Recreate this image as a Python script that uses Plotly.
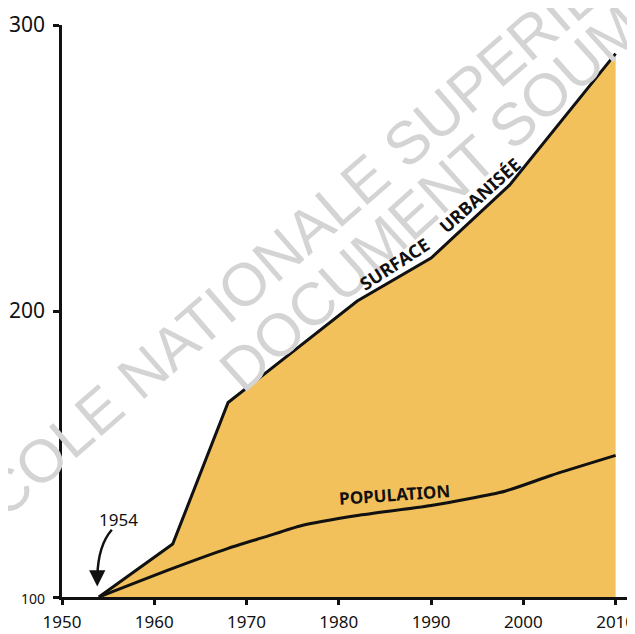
import plotly.graph_objects as go

# ---- data ----
surface_years = [1954, 1962, 1968, 1982, 1990, 1998.5, 2010]
surface_values = [100, 118.5, 168, 203.5, 218.5, 244, 290]

population_years = [1954, 1962, 1968, 1972, 1976, 1982, 1990, 1998, 2003, 2010]
population_values = [100, 110, 117, 121, 125, 128.5, 132, 137, 142.5, 149.5]

x_ticks = [1950, 1960, 1970, 1980, 1990, 2000, 2010]
x_tick_labels = ["1950", "1960", "1970", "1980", "1990", "2000", "2010"]
y_ticks = [100, 200, 300]
y_tick_labels = ["<span style='font-size:14px'>100</span>", "200", "300"]

FILL = "#F2C15B"
INK = "#111111"
FONT = "Noto Sans"

fig = go.Figure()

fig.add_trace(go.Scatter(
    x=surface_years, y=surface_values, mode="lines",
    line=dict(color=INK, width=3), fill="tozeroy", fillcolor=FILL,
    hoverinfo="skip", showlegend=False,
))
fig.add_trace(go.Scatter(
    x=population_years, y=population_values, mode="lines",
    line=dict(color=INK, width=3, shape="spline", smoothing=0.6),
    hoverinfo="skip", showlegend=False,
))

# watermark (two diagonal lines, partly outside the page)
wm_font = dict(family="Liberation Sans, Arial", size=60, color="#d4d4d4")
fig.add_annotation(text="ECOLE NATIONALE SUPERIEURE D'ARCHITECTURE",
                   x=0.814, y=0.979, xref="paper", yref="paper", showarrow=False,
                   xanchor="center", yanchor="middle",
                   textangle=-41, font=wm_font)
fig.add_annotation(text="DOCUMENT SOUMIS AU DROIT D'AUTEUR",
                   x=1.081, y=1.092, xref="paper", yref="paper", showarrow=False,
                   xanchor="center", yanchor="middle",
                   textangle=-42, font=wm_font)

lab_font = dict(family=FONT, size=18, color=INK, weight="bold")
fig.add_annotation(text="SURFACE", x=1986.0, y=216.5, showarrow=False,
                   textangle=-33, font=lab_font)
fig.add_annotation(text="URBANISÉE", x=1995.3, y=240.5, showarrow=False,
                   textangle=-42, font=lab_font)
fig.add_annotation(text="POPULATION", x=1986.0, y=136.0, showarrow=False,
                   textangle=-4, font=dict(family=FONT, size=17, color=INK, weight="bold"))
fig.add_annotation(text="1954", x=1956.1, y=127.0, showarrow=False,
                   font=dict(family=FONT, size=17, color=INK))

# curved arrow to 1954
fig.add_shape(type="path", xref="x", yref="y",
              path="M 1955.4,123.5 Q 1953.9,118 1953.83,107",
              line=dict(color=INK, width=2.5))
fig.add_annotation(x=1953.82, y=103.7, ax=0, ay=-14, text="", showarrow=True,
                   arrowhead=2, arrowsize=1.3, arrowwidth=2.5, arrowcolor=INK)

fig.update_xaxes(
    range=[1950, 2012.1], tickvals=x_ticks, ticktext=x_tick_labels,
    showgrid=False, zeroline=False, showline=True, linecolor=INK, linewidth=2.5,
    ticks="outside", ticklen=5, tickwidth=2.5, tickcolor=INK,
    tickfont=dict(family=FONT, size=17, color=INK),
    ticklabeloverflow="allow", ticklabelstandoff=3,
)
fig.update_yaxes(
    range=[100, 300], tickvals=y_ticks, ticktext=y_tick_labels,
    showgrid=False, zeroline=False, showline=True, linecolor=INK, linewidth=2.5,
    ticks="outside", ticklen=6, tickwidth=2.5, tickcolor=INK,
    tickfont=dict(family=FONT, size=21, color=INK),
    ticklabelstandoff=4,
)

fig.update_layout(
    width=627, height=626,
    margin=dict(l=54, r=0, t=17, b=37),
    paper_bgcolor="white", plot_bgcolor="white",
    showlegend=False,
)

fig.write_html("out.html")
